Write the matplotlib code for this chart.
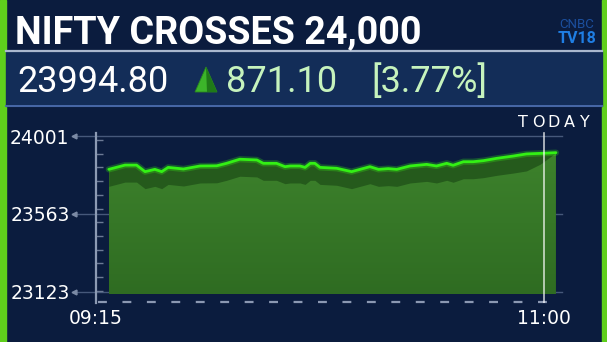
import numpy as np
import matplotlib
matplotlib.use("Agg")
import matplotlib.pyplot as plt
from matplotlib.patches import Rectangle, Polygon
from matplotlib.colors import LinearSegmentedColormap

# ---------------- data ----------------
minutes = [3.0, 6.8, 9.5, 11.5, 13.8, 15.4, 16.9, 20.5, 24.4, 28.3, 30.6, 33.7, 37.7, 39.2,
           42.3, 44.3, 45.5, 47.8, 49.0, 50.2, 51.3, 52.5, 56.4, 59.9, 61.9, 64.2, 66.2,
           68.5, 70.5, 73.6, 77.5, 79.8, 82.2, 83.7, 86.1, 88.4, 90.8, 93.9, 97.8, 100.9,
           104.1, 107.8]
values = [23813, 23837, 23837, 23800, 23813, 23800, 23824, 23815, 23832, 23833, 23847, 23870,
          23866, 23847, 23847, 23828, 23832, 23832, 23824, 23847, 23847, 23824, 23819, 23800,
          23813, 23828, 23813, 23817, 23813, 23832, 23841, 23832, 23847, 23836, 23856, 23856,
          23862, 23875, 23888, 23900, 23903, 23907]
y_ticks = [24001, 23563, 23123]
x_ticks = [0, 105]
x_labels = ["09:15", "11:00"]
title = "NIFTY CROSSES 24,000"
last_price = "23994.80"
change = "871.10"
change_pct = "[3.77%]"

W, H = 607, 342
BG = "#0b1c3e"

fig = plt.figure(figsize=(W / 100, H / 100), dpi=100, facecolor=BG)

def fx(x):
    return x / W

def fy(y):
    return 1 - y / H

# side stripes
fig.patches.append(Rectangle((0, 0), fx(6), 1, transform=fig.transFigure, color="#5fcf1c", zorder=0))
fig.patches.append(Rectangle((fx(602), 0), fx(5), 1, transform=fig.transFigure, color="#5fcf1c", zorder=0))

# info band
fig.patches.append(Rectangle((fx(6), fy(106)), fx(596), fy(51) - fy(106), transform=fig.transFigure,
                             color="#132d58", zorder=0))
fig.lines.append(plt.Line2D([fx(6), fx(602)], [fy(50.5), fy(50.5)], transform=fig.transFigure,
                            color="#aab8cf", lw=1.6))
fig.lines.append(plt.Line2D([fx(6), fx(602)], [fy(106), fy(106)], transform=fig.transFigure,
                            color="#4868a8", lw=1.4))

# title and numbers
fig.text(fx(15), fy(43.3), title, fontfamily="Roboto", fontweight="bold", fontsize=27.2,
         color="white", va="baseline", ha="left")
fig.text(fx(17), fy(91.7), last_price, fontfamily="Roboto", fontsize=26, color="white",
         va="baseline", ha="left")
fig.text(fx(226), fy(91.7), change, fontfamily="Roboto", fontsize=26, color="#c6f3bd",
         va="baseline", ha="left")
fig.text(fx(371), fy(91.7), change_pct, fontfamily="Roboto", fontsize=26, color="#c6f3bd",
         va="baseline", ha="left")
tri = Polygon([[fx(195), fy(92)], [fx(217), fy(92)], [fx(206), fy(67)]], closed=True,
              transform=fig.transFigure, facecolor="#3cb52a", edgecolor="#2a8a1e", lw=0.6)
fig.patches.append(tri)
tri2 = Polygon([[fx(206), fy(67)], [fx(217), fy(92)], [fx(207), fy(92)]], closed=True,
               transform=fig.transFigure, facecolor="#1f7a18", lw=0)
fig.patches.append(tri2)

# logo
fig.text(fx(577), fy(28.5), "CNBC", fontfamily="Roboto", fontsize=9.5, color="#1b4f9e",
         va="baseline", ha="center")
fig.text(fx(577), fy(43), "TV18", fontfamily="Roboto", fontweight="bold", fontsize=11.5,
         color="#1f7ee3", va="baseline", ha="center")

# TODAY
for ch, cx in zip("TODAY", np.linspace(522.5, 584.5, 5)):
    fig.text(fx(cx), fy(127.5), ch, fontfamily="DejaVu Sans", fontsize=11.5, color="white",
             va="baseline", ha="center")

# ---------------- chart ----------------
x0, px_per_min = 96, 448 / 105
v_top, px_per_v = 24001, 155.7 / 878
ax_left, ax_right, ax_top, ax_bot = 96, 565, 130, 303
ax = fig.add_axes([fx(ax_left), fy(ax_bot), (ax_right - ax_left) / W, (ax_bot - ax_top) / H])
ax.set_facecolor("none")
xmin = 0
xmax = (ax_right - x0) / px_per_min
ymax = v_top + (136 - ax_top) / px_per_v
ymin = v_top - (ax_bot - 136) / px_per_v

def vpx(ypix):
    return v_top - (ypix - 136) / px_per_v

def mpx(xpix):
    return (xpix - x0) / px_per_min

m = np.array(minutes, dtype=float)
v = np.array(values, dtype=float)
base = vpx(294)

# gridlines
for t in y_ticks:
    ax.plot([mpx(76), mpx(562)], [t, t], color="#55688a", lw=1.0, alpha=0.8, clip_on=False, zorder=1)
    ax.plot([mpx(74)], [t], marker="<", ms=3.5, color="#7b8aa5", clip_on=False, zorder=1)

# gradient main fill
poly = ax.fill_between(m, base, v, facecolor="none", edgecolor="none", lw=0, zorder=2)
grad = np.linspace(1, 0, 256).reshape(-1, 1)
cmap = LinearSegmentedColormap.from_list("g", ["#2f6c22", "#3d822c"])
im = ax.imshow(grad, extent=[m[0], m[-1], base, v.max()], aspect="auto", cmap=cmap,
               origin="upper", zorder=2.1)
im.set_clip_path(poly.get_paths()[0], transform=ax.transData)
ax.set_xlim(xmin, xmax)
ax.set_ylim(ymin, ymax)

# dark top band (3D face)
offset = 17 / px_per_v * np.clip((m[-1] - m) / 5.8, 0, 1)
ax.fill_between(m, v - offset, v, color="#255a1c", lw=0, zorder=3)

# line with glow
ax.plot(m, v, color="#39ff14", lw=4.5, alpha=0.25, zorder=4, solid_capstyle="round")
ax.plot(m, v, color="#33f014", lw=2.0, zorder=5, solid_capstyle="round")

# current time marker
ax.axvline(105, ymin=0, ymax=(ax_bot - 133) / (ax_bot - ax_top), color="white", lw=1.2,
           alpha=0.75, zorder=6)

# bottom dashed axis
ax.plot([mpx(98), mpx(562)], [vpx(301.7)] * 2, color="#8b98b2", lw=1.6,
        linestyle=(0, (4, 7)), zorder=3, clip_on=False)

# y axis spine + minor ticks
for s in ["top", "right", "bottom"]:
    ax.spines[s].set_visible(False)
ax.spines["left"].set_color("#8c9ab3")
ax.spines["left"].set_linewidth(1.6)
ax.spines["left"].set_bounds(vpx(303), vpx(133))
ax.set_yticks(y_ticks)
ax.set_yticklabels([str(t) for t in y_ticks])
ax.set_yticks([vpx(140 + 13.7 * k) for k in range(12)], minor=True)
ax.tick_params(axis="y", which="major", length=0, pad=19, labelsize=13.5, labelcolor="white")
ax.tick_params(axis="y", which="minor", direction="in", length=5, width=1, color="#6c7a95")
ax.set_xticks(x_ticks)
ax.set_xticklabels(x_labels)
ax.tick_params(axis="x", length=0, pad=4, labelsize=13.5, labelcolor="white")
for lbl in ax.get_xticklabels() + ax.get_yticklabels():
    lbl.set_fontfamily("DejaVu Sans")

fig.savefig("out.png", dpi=100, facecolor=BG)
